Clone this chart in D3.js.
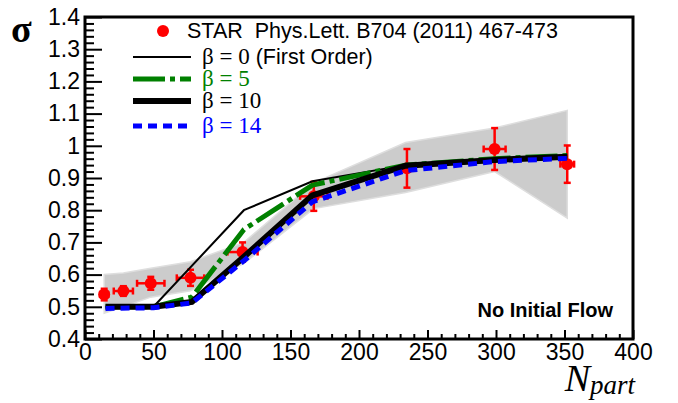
<!DOCTYPE html>
<html><head><meta charset="utf-8">
<script src="https://cdn.jsdelivr.net/npm/d3@7"></script>
<style>body{margin:0;background:#fff}svg{display:block}</style>
</head><body>
<script>
// ---- data ----
const dataX  = [14, 28, 48, 77, 115, 167, 235, 299, 352];
const dataY  = [0.538, 0.549, 0.573, 0.59, 0.67, 0.843, 0.93, 0.99, 0.943];
const dataEx = [3, 7, 10, 10, 11, 10, 4, 8, 5];
const dataEy = [0.018, 0.015, 0.02, 0.025, 0.03, 0.045, 0.06, 0.065, 0.058];
const bandX  = [14, 28, 48, 77, 116, 167, 234, 299, 352];
const bandHi = [0.60, 0.605, 0.62, 0.64, 0.70, 0.885, 1.01, 1.055, 1.11];
const bandLo = [0.48, 0.50, 0.53, 0.55, 0.635, 0.805, 0.855, 0.92, 0.775];
const modelX  = [15, 50, 78, 116, 166, 234, 299, 352];
const beta5   = [0.50, 0.50, 0.53, 0.74, 0.878, 0.94, 0.96, 0.97];
const beta10  = [0.50, 0.50, 0.515, 0.655, 0.846, 0.938, 0.956, 0.966];
const beta14  = [0.495, 0.497, 0.512, 0.643, 0.826, 0.923, 0.951, 0.961];
const beta0X = [15, 50, 116, 166, 234, 299, 352];
const beta0Y = [0.50, 0.50, 0.80, 0.89, 0.94, 0.958, 0.97];
const xTicks = [0, 50, 100, 150, 200, 250, 300, 350, 400];
const xTickLabels = ["0","50","100","150","200","250","300","350","400"];
const yTicks = [0.4,0.5,0.6,0.7,0.8,0.9,1.0,1.1,1.2,1.3,1.4];
const yTickLabels = ["0.4","0.5","0.6","0.7","0.8","0.9","1","1.1","1.2","1.3","1.4"];

const W = 678, H = 403;
const svg = d3.select("body").append("svg").attr("width", W).attr("height", H);
const x = d3.scaleLinear().domain([0, 400]).range([85, 633]);
const y = d3.scaleLinear().domain([0.4, 1.4]).range([339, 17]);
const sans = "Liberation Sans, Arial, sans-serif", serif = "Liberation Serif, Times New Roman, serif";

// band
const band = d3.area().x((d,i)=>x(bandX[i])).y0((d,i)=>y(bandLo[i])).y1((d,i)=>y(bandHi[i]));
svg.append("path").datum(bandX).attr("d", band)
  .attr("fill", "#cccccc").attr("stroke", "#dedede").attr("stroke-width", 1.5);

// data points
const red = "#ff0000";
const pts = svg.append("g");
dataX.forEach((xv, i) => {
  const cx = x(xv), cy = y(dataY[i]);
  const y1 = y(dataY[i] + dataEy[i]), y2 = y(dataY[i] - dataEy[i]);
  const x1 = x(xv - dataEx[i]), x2 = x(xv + dataEx[i]);
  const g = pts.append("g").attr("stroke", red).attr("stroke-width", 2.5);
  g.append("line").attr("x1", cx).attr("x2", cx).attr("y1", y1).attr("y2", y2);
  g.append("line").attr("x1", cx-3.5).attr("x2", cx+3.5).attr("y1", y1).attr("y2", y1);
  g.append("line").attr("x1", cx-3.5).attr("x2", cx+3.5).attr("y1", y2).attr("y2", y2);
  if (dataEx[i] > 0) {
    g.append("line").attr("x1", x1).attr("x2", x2).attr("y1", cy).attr("y2", cy);
    g.append("line").attr("x1", x1).attr("x2", x1).attr("y1", cy-3.5).attr("y2", cy+3.5);
    g.append("line").attr("x1", x2).attr("x2", x2).attr("y1", cy-3.5).attr("y2", cy+3.5);
  }
  pts.append("circle").attr("cx", cx).attr("cy", cy).attr("r", 6).attr("fill", red);
});

// model lines
const line = (xs, ys) => d3.line().x((d,i)=>x(xs[i])).y((d,i)=>y(ys[i]))(xs);
svg.append("path").attr("d", line(beta0X, beta0Y)).attr("fill","none").attr("stroke","#000").attr("stroke-width",2);
svg.append("path").attr("d", line(modelX, beta5)).attr("fill","none").attr("stroke","#008000").attr("stroke-width",5).attr("stroke-dasharray","32,5,5,5");
svg.append("path").attr("d", line(modelX, beta10)).attr("fill","none").attr("stroke","#000").attr("stroke-width",6);
svg.append("path").attr("d", line(modelX, beta14)).attr("fill","none").attr("stroke","#0000ff").attr("stroke-width",5).attr("stroke-dasharray","9,6");

// axes
const yAxis = d3.axisLeft(y).tickValues(yTicks).tickFormat((d,i)=>yTickLabels[i]).tickSize(-17).tickPadding(5);
const yMinor = d3.axisLeft(y).tickValues(d3.range(0.42, 1.4, 0.02).filter(v => Math.abs(v*10 - Math.round(v*10)) > 1e-6)).tickFormat("").tickSize(-9);
const xAxis = d3.axisBottom(x).tickValues(xTicks).tickFormat((d,i)=>xTickLabels[i]).tickSize(-9).tickPadding(5);
const xMinor = d3.axisBottom(x).tickValues(d3.range(10, 400, 10).filter(v => v % 50 !== 0)).tickFormat("").tickSize(-5);

function styleAxis(g) {
  g.select(".domain").remove();
  g.selectAll(".tick line").attr("stroke", "#000").attr("stroke-width", 2);
  g.selectAll("text").attr("font-family", sans).attr("font-size", 23).attr("fill", "#000");
}
svg.append("g").attr("transform", "translate(85,0)").call(yAxis).call(styleAxis);
svg.append("g").attr("transform", "translate(85,0)").call(yMinor).call(styleAxis);
svg.append("g").attr("transform", "translate(0,339)").call(xAxis).call(styleAxis);
svg.append("g").attr("transform", "translate(0,339)").call(xMinor).call(styleAxis);

// frame
svg.append("rect").attr("x", 85).attr("y", 17).attr("width", 548).attr("height", 322)
  .attr("fill", "none").attr("stroke", "#000").attr("stroke-width", 3);

// axis titles
svg.append("text").attr("x", 11).attr("y", 42).attr("font-family", serif)
  .attr("font-weight", "bold").attr("font-size", 38).text("σ");
const nt = svg.append("text").attr("x", 635).attr("y", 391).attr("text-anchor", "end")
  .attr("font-family", serif).attr("font-style", "italic");
nt.append("tspan").attr("font-size", 38).text("N");
nt.append("tspan").attr("font-size", 27).attr("dy", 3).text("part");

// legend
svg.append("circle").attr("cx", 163).attr("cy", 31).attr("r", 6).attr("fill", red);
svg.append("text").attr("x", 187).attr("y", 38).attr("font-family", sans).attr("font-size", 21.5)
  .attr("xml:space", "preserve").text("STAR  Phys.Lett. B704 (2011) 467-473");

const legendRows = [
  {y: 57, label: "β = 0", extra: " (First Order)", color: "#000", w: 2, dash: null},
  {y: 79, label: "β = 5", extra: "", color: "#008000", w: 5, dash: "32,5,5,5"},
  {y: 101, label: "β = 10", extra: "", color: "#000", w: 6, dash: null},
  {y: 126, label: "β = 14", extra: "", color: "#0000ff", w: 5, dash: "9,6"}
];
legendRows.forEach(r => {
  svg.append("line").attr("x1", 133).attr("x2", 191).attr("y1", r.y).attr("y2", r.y)
    .attr("stroke", r.color).attr("stroke-width", r.w).attr("stroke-dasharray", r.dash);
  const t = svg.append("text").attr("x", 202).attr("y", r.y + 7).attr("fill", r.color);
  t.append("tspan").attr("font-family", serif).attr("font-size", 23).text(r.label);
  if (r.extra) t.append("tspan").attr("font-family", sans).attr("font-size", 21.5).text(r.extra);
});

svg.append("text").attr("x", 613).attr("y", 317).attr("text-anchor", "end")
  .attr("font-family", sans).attr("font-weight", "bold").attr("font-size", 20).text("No Initial Flow");
</script>
</body></html>
